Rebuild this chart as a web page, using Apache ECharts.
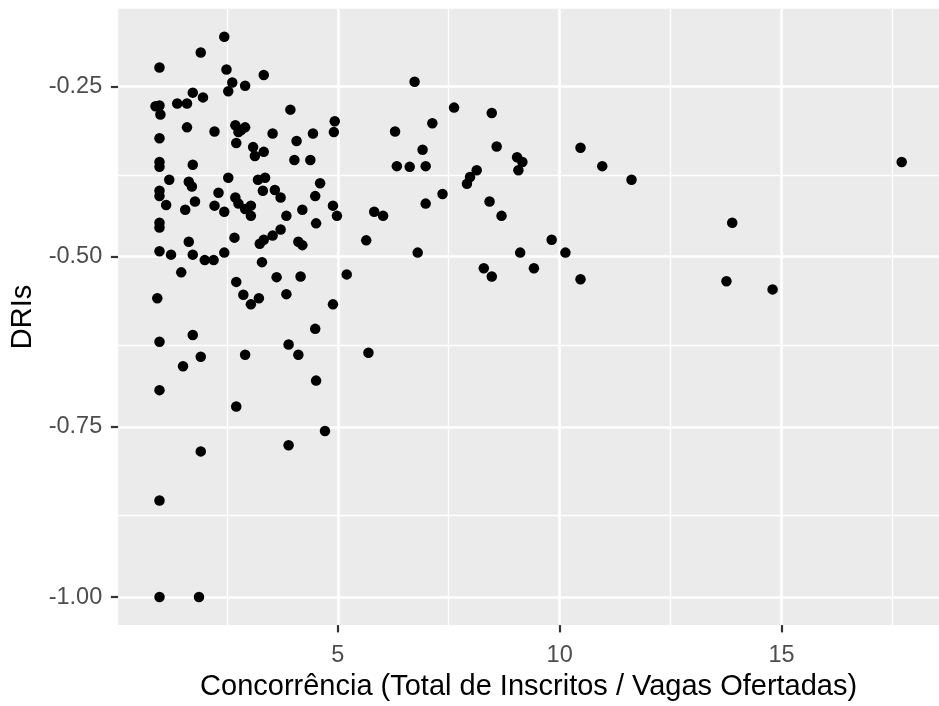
<!DOCTYPE html>
<html>
<head>
<meta charset="utf-8">
<script src="https://cdn.jsdelivr.net/npm/echarts@6/dist/echarts.min.js"></script>
<style>
  html, body { margin: 0; padding: 0; background: #ffffff; }
  #chart { width: 939px; height: 706px; }
</style>
</head>
<body>
<div id="chart"></div>
<script>
// Concorrência (inscritos / vagas) per course
const concorrencia = [
  2.44, 1.91, 0.98, 2.49, 3.33, 2.62, 2.91, 2.53, 1.73, 1.96,
  0.89, 0.98, 1.00, 1.38, 1.60, 1.60, 2.22, 2.69, 2.91, 2.76,
  2.82, 2.71, 0.98, 3.09, 3.13, 3.33, 0.98, 1.73, 0.98, 1.20,
  1.64, 1.71, 2.53, 3.20, 3.36, 0.98, 0.98, 2.31, 3.31, 1.13,
  1.78, 1.56, 2.22, 2.44, 2.69, 2.76, 2.91, 3.04, 3.04, 0.98,
  0.98, 1.64, 2.67, 3.24, 3.33, 0.98, 1.24, 1.73, 2.00, 2.20,
  2.44, 3.29, 1.47, 2.71, 0.93, 2.87, 3.04, 3.22, 1.73, 0.98,
  1.91, 1.51, 2.91, 0.98, 2.71, 1.91, 0.98, 0.98, 1.87, 3.93,
  4.93, 4.91, 3.53, 4.44, 4.07, 4.02, 4.38, 4.60, 3.58, 3.71,
  4.49, 4.89, 4.98, 4.20, 3.84, 5.82, 6.02, 4.51, 3.71, 3.53,
  4.11, 4.20, 5.64, 3.62, 4.16, 5.20, 3.84, 4.89, 4.49, 3.89,
  4.11, 5.69, 4.51, 4.71, 3.89, 6.73, 7.62, 8.47, 6.29, 7.13,
  6.91, 8.58, 6.33, 6.62, 6.98, 9.04, 9.16, 9.07, 8.13, 7.98,
  7.91, 7.36, 6.98, 8.42, 8.69, 9.82, 6.80, 9.11, 10.13, 8.29,
  8.47, 9.42, 10.47, 10.96, 11.62, 17.71, 13.89, 10.47, 13.76, 14.80
];

// DRIs per course (same order)
const dris = [
  -0.177, -0.200, -0.222, -0.225, -0.233, -0.244, -0.249, -0.257, -0.259, -0.266,
  -0.279, -0.278, -0.291, -0.275, -0.275, -0.310, -0.316, -0.307, -0.310, -0.317,
  -0.314, -0.333, -0.326, -0.339, -0.352, -0.346, -0.361, -0.365, -0.368, -0.387,
  -0.390, -0.397, -0.384, -0.387, -0.384, -0.403, -0.411, -0.406, -0.403, -0.424,
  -0.419, -0.431, -0.425, -0.434, -0.413, -0.422, -0.430, -0.425, -0.440, -0.450,
  -0.457, -0.478, -0.472, -0.481, -0.475, -0.492, -0.497, -0.497, -0.505, -0.505,
  -0.494, -0.508, -0.523, -0.537, -0.561, -0.556, -0.570, -0.561, -0.615, -0.625,
  -0.647, -0.661, -0.644, -0.696, -0.720, -0.786, -0.858, -1.000, -1.000, -0.284,
  -0.301, -0.317, -0.319, -0.319, -0.330, -0.358, -0.358, -0.392, -0.402, -0.413,
  -0.411, -0.425, -0.440, -0.431, -0.440, -0.434, -0.440, -0.451, -0.460, -0.469,
  -0.478, -0.483, -0.476, -0.530, -0.529, -0.526, -0.555, -0.570, -0.606, -0.629,
  -0.644, -0.641, -0.682, -0.756, -0.777, -0.243, -0.281, -0.289, -0.316, -0.304,
  -0.343, -0.338, -0.367, -0.368, -0.367, -0.354, -0.361, -0.373, -0.373, -0.383,
  -0.393, -0.408, -0.422, -0.419, -0.440, -0.475, -0.494, -0.494, -0.494, -0.517,
  -0.529, -0.517, -0.340, -0.367, -0.387, -0.361, -0.450, -0.533, -0.536, -0.548
];

// Axis breaks
const xMajor = [5, 10, 15];
const xMinor = [2.5, 7.5, 12.5, 17.5];
const yMajor = [-1.00, -0.75, -0.50, -0.25];
const yMinor = [-0.875, -0.625, -0.375];

const xTitle = 'Concorrência (Total de Inscritos / Vagas Ofertadas)';
const yTitle = 'DRIs';

// Panel limits: data range padded by 5% on each side
function padded(values) {
  const lo = Math.min(...values), hi = Math.max(...values);
  const pad = (hi - lo) * 0.05;
  return [lo - pad, hi + pad];
}
const xLim = padded(concorrencia);
const yLim = padded(dris);

const points = concorrencia.map((x, i) => [x, dris[i]]);

const FONT = '"Liberation Sans", Arial, sans-serif';

const gridLines = [
  ...xMinor.map(v => ({ xAxis: v, lineStyle: { width: 1.3 } })),
  ...yMinor.map(v => ({ yAxis: v, lineStyle: { width: 1.3 } })),
  ...xMajor.map(v => ({ xAxis: v, lineStyle: { width: 2.6 } })),
  ...yMajor.map(v => ({ yAxis: v, lineStyle: { width: 2.6 } }))
];

const chart = echarts.init(document.getElementById('chart'), null, { renderer: 'canvas' });

chart.setOption({
  animation: false,
  backgroundColor: '#ffffff',
  grid: {
    left: 118.2,
    top: 8.8,
    width: 832.6,
    height: 620.4,
    show: true,
    backgroundColor: '#EBEBEB',
    borderWidth: 0,
    containLabel: false
  },
  xAxis: {
    type: 'value',
    min: xLim[0],
    max: xLim[1],
    axisLine: { show: false },
    splitLine: { show: false },
    axisTick: {
      show: true,
      customValues: xMajor,
      length: 7.3,
      lineStyle: { color: '#333333', width: 2.2 }
    },
    axisLabel: {
      customValues: xMajor,
      formatter: v => String(v),
      color: '#4D4D4D',
      fontSize: 23.5,
      fontFamily: FONT,
      margin: 18
    },
    name: xTitle,
    nameLocation: 'middle',
    nameGap: 46,
    nameTextStyle: { color: '#000000', fontSize: 29, fontFamily: FONT }
  },
  yAxis: {
    type: 'value',
    min: yLim[0],
    max: yLim[1],
    axisLine: { show: false },
    splitLine: { show: false },
    axisTick: {
      show: true,
      customValues: yMajor,
      length: 7.3,
      lineStyle: { color: '#333333', width: 2.2 }
    },
    axisLabel: {
      customValues: yMajor,
      formatter: v => v.toFixed(2),
      color: '#4D4D4D',
      fontSize: 23.5,
      fontFamily: FONT,
      margin: 16
    },
    name: yTitle,
    nameLocation: 'middle',
    nameRotate: 90,
    nameGap: 78,
    nameTextStyle: { color: '#000000', fontSize: 29, fontFamily: FONT }
  },
  series: [{
    type: 'scatter',
    data: points,
    symbol: 'circle',
    symbolSize: 10.5,
    itemStyle: { color: '#000000', opacity: 1 },
    z: 3,
    markLine: {
      silent: true,
      z: 1,
      symbol: ['none', 'none'],
      label: { show: false },
      lineStyle: { color: '#FFFFFF', type: 'solid', opacity: 1 },
      emphasis: { disabled: true },
      data: gridLines
    }
  }]
});
</script>
</body>
</html>
